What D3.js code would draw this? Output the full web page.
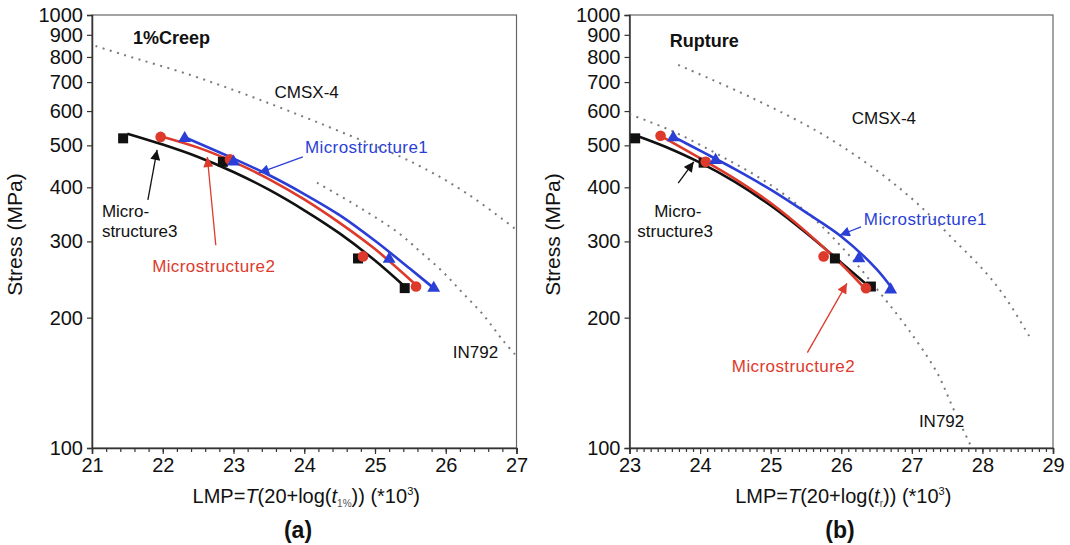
<!DOCTYPE html>
<html>
<head>
<meta charset="utf-8">
<script src="https://cdn.jsdelivr.net/npm/d3@7"></script>
<style>
  body { margin: 0; background: #fff; }
  svg text { font-family: 'Liberation Sans', Arial, sans-serif; }
</style>
</head>
<body>
<div id="chart"></div>
<script>
// ---- data: [LMP (*10^3), stress MPa]
var yTicks = [100, 200, 300, 400, 500, 600, 700, 800, 900, 1000];

// (a) 1% creep
var a_m1_pts = [[22.31, 519], [23.0, 458], [25.2, 273], [25.83, 234]];
var a_m2_pts = [[21.97, 523], [22.95, 464], [24.83, 277], [25.58, 236]];
var a_m3_pts = [[21.44, 519], [22.85, 458], [24.76, 274], [25.42, 234]];
var a_m1_fit = [[22.31, 522], [23.0, 466], [23.5, 427], [24.0, 386], [24.5, 345], [25.0, 301], [25.5, 259], [25.83, 234]];
var a_m2_fit = [[21.97, 525], [22.5, 494], [23.0, 458], [23.5, 418], [24.0, 375], [24.5, 331], [25.0, 288], [25.58, 238]];
var a_m3_fit = [[21.5, 532], [22.0, 502], [22.5, 470], [23.0, 434], [23.5, 395], [24.0, 354], [24.5, 313], [25.0, 271], [25.42, 236]];
var a_cmsx = [[21.05, 848], [21.45, 809], [22.39, 727], [23.11, 661], [23.74, 604], [24.52, 537], [25.55, 455], [26.29, 388], [27.0, 319]];
var a_in792 = [[24.18, 410], [24.75, 362], [25.33, 314], [25.64, 284], [25.96, 255], [26.24, 228], [26.53, 203], [26.81, 177], [27.0, 163]];

// (b) rupture
var b_m1_pts = [[23.62, 521], [24.22, 462], [26.25, 274], [26.70, 232]];
var b_m2_pts = [[23.44, 526], [24.08, 458], [25.75, 277], [26.35, 234]];
var b_m3_pts = [[23.08, 519], [24.05, 456], [25.91, 274], [26.42, 236]];
var b_m1_fit = [[23.62, 524], [24.0, 486], [24.5, 440], [25.0, 395], [25.5, 350], [26.0, 308], [26.5, 259], [26.70, 236]];
var b_m2_fit = [[23.44, 526], [24.0, 467], [24.5, 418], [25.0, 368], [25.5, 316], [26.0, 266], [26.35, 232]];
var b_m3_fit = [[23.12, 525], [23.5, 497], [24.0, 456], [24.5, 411], [25.0, 363], [25.5, 314], [26.0, 268], [26.42, 234]];
var b_cmsx = [[23.69, 767], [24.74, 643], [25.71, 533], [26.49, 439], [27.07, 368], [27.6, 302], [28.04, 255], [28.33, 222], [28.7, 177]];
var b_in792 = [[23.0, 590], [23.6, 540], [24.3, 472], [25.0, 405], [25.6, 340], [26.1, 280], [26.55, 228], [26.95, 188], [27.35, 150], [27.6, 122], [27.85, 100]];

var blue = "#2b3fd6", red = "#dd3a2c", black = "#111";

// Boilerplate
var W = 1070, H = 545;
var plotTop = 15, plotBottom = 448;
var svg = d3.select("#chart").append("svg")
            .attr("width", W).attr("height", H);

var defs = svg.append("defs");
[["blue", blue], ["red", red], ["black", black]].forEach(function (c) {
  defs.append("marker")
      .attr("id", "arr-" + c[0])
      .attr("viewBox", "0 -5 10 10")
      .attr("refX", 10).attr("refY", 0)
      .attr("markerUnits", "userSpaceOnUse")
      .attr("markerWidth", 11).attr("markerHeight", 10)
      .attr("orient", "auto")
      .append("path").attr("d", "M0,-5L10,0L0,5Z").attr("fill", c[1]);
});

var panels = [
  { left: 92, right: 516.5, xdom: [21, 27], minor: 0.2, title: "1%Creep",
    m1: a_m1_pts, m2: a_m2_pts, m3: a_m3_pts, f1: a_m1_fit, f2: a_m2_fit, f3: a_m3_fit,
    cmsx: a_cmsx, in792: a_in792, sub: "1%", tag: "(a)", tagX: 298,
    labels: { title: [21.58, 857], cmsx: [23.58, 643], in792: [26.1, 161],
              l1: [24.01, 480], l2: [21.85, 255], l3a: [21.14, 341], l3b: [21.14, 307] },
    arrows: { a1: [[23.98, 470], [23.36, 432]], a2: [[22.75, 294], [22.63, 470]], a3: [[21.79, 374], [21.92, 488]] } },
  { left: 629.5, right: 1053, xdom: [23, 29], minor: 0.1, title: "Rupture",
    m1: b_m1_pts, m2: b_m2_pts, m3: b_m3_pts, f1: b_m1_fit, f2: b_m2_fit, f3: b_m3_fit,
    cmsx: b_cmsx, in792: b_in792, sub: "r", tag: "(b)", tagX: 840,
    labels: { title: [23.57, 844], cmsx: [26.15, 560], in792: [27.1, 112],
              l1: [26.32, 327], l2: [24.45, 150], l3a: [23.35, 341], l3b: [23.11, 307] },
    arrows: { a1: [[26.28, 324], [25.98, 310]], a2: [[25.52, 166], [26.08, 240]], a3: [[23.69, 409], [23.91, 458]] } }
];

panels.forEach(function (p) {
  var x = d3.scaleLinear().domain(p.xdom).range([p.left, p.right]);
  var y = d3.scaleLog().domain([100, 1000]).range([plotBottom, plotTop]);
  var g = svg.append("g");

  // frame
  g.append("rect")
   .attr("x", p.left).attr("y", plotTop)
   .attr("width", p.right - p.left).attr("height", plotBottom - plotTop)
   .attr("fill", "none").attr("stroke", "#666").attr("stroke-width", 1.2);

  // y axis
  var yAxis = d3.axisLeft(y).tickValues(yTicks).tickFormat(d3.format("d")).tickSize(5).tickPadding(4);
  var ya = g.append("g").attr("transform", "translate(" + p.left + ",0)").call(yAxis);
  ya.select(".domain").attr("stroke", "#333").attr("stroke-width", 1.5);
  ya.selectAll(".tick line").attr("stroke", "#333").attr("stroke-width", 1.2);
  ya.selectAll(".tick text").attr("font-size", 20).attr("fill", "#111")
    .attr("font-family", "'Liberation Sans', Arial, sans-serif");

  // x axis minor + major
  var minors = d3.range(p.xdom[0], p.xdom[1] + 1e-9, p.minor);
  var xm = g.append("g").attr("transform", "translate(0," + plotBottom + ")")
            .call(d3.axisBottom(x).tickValues(minors).tickSize(4).tickFormat(""));
  xm.select(".domain").remove();
  xm.selectAll(".tick line").attr("stroke", "#333").attr("stroke-width", 1.2);

  var xa = g.append("g").attr("transform", "translate(0," + plotBottom + ")")
            .call(d3.axisBottom(x).tickValues(d3.range(p.xdom[0], p.xdom[1] + 1)).tickFormat(d3.format("d")).tickSize(6).tickPadding(4));
  xa.select(".domain").attr("stroke", "#333").attr("stroke-width", 1.5);
  xa.selectAll(".tick line").attr("stroke", "#333").attr("stroke-width", 1.2);
  xa.selectAll(".tick text").attr("font-size", 20).attr("fill", "#111")
    .attr("font-family", "'Liberation Sans', Arial, sans-serif");

  // y title
  g.append("text")
   .attr("transform", "translate(" + (p.left - 70) + "," + ((plotTop + plotBottom) / 2 + 3) + ") rotate(-90)")
   .attr("text-anchor", "middle").attr("font-size", 21).attr("fill", "#111")
   .text("Stress (MPa)");

  // x title
  var xt = g.append("text")
   .attr("x", (p.left + p.right) / 2 + 2).attr("y", 503)
   .attr("text-anchor", "middle").attr("font-size", 20).attr("fill", "#111");
  xt.append("tspan").text("LMP=");
  xt.append("tspan").attr("font-style", "italic").text("T");
  xt.append("tspan").text("(20+log(");
  xt.append("tspan").attr("font-style", "italic").text("t");
  xt.append("tspan").attr("font-size", 10).attr("dy", 4).attr("fill", "#555").text(p.sub);
  xt.append("tspan").attr("dy", -4).text(")) (*10");
  xt.append("tspan").attr("font-size", 11).attr("dy", -8).text("3");
  xt.append("tspan").attr("dy", 8).text(")");

  g.append("text").attr("x", p.tagX).attr("y", 538)
   .attr("text-anchor", "middle").attr("font-size", 23).attr("font-weight", "bold")
   .attr("fill", "#111").text(p.tag);

  var clip = "clip-" + p.tag.replace(/[()]/g, "");
  defs.append("clipPath").attr("id", clip).append("rect")
      .attr("x", p.left).attr("y", plotTop).attr("width", p.right - p.left).attr("height", plotBottom - plotTop);

  var plot = g.append("g").attr("clip-path", "url(#" + clip + ")");

  // reference alloys (dotted)
  var dotted = d3.line().x(function (d) { return x(d[0]); }).y(function (d) { return y(d[1]); })
                 .curve(d3.curveCatmullRom);
  [p.cmsx, p.in792].forEach(function (s) {
    plot.append("path").attr("d", dotted(s))
        .attr("fill", "none").attr("stroke", "#7a7a7a")
        .attr("stroke-width", 2).attr("stroke-dasharray", "2,5.5");
  });

  // fitted lines
  var line = d3.line().x(function (d) { return x(d[0]); }).y(function (d) { return y(d[1]); })
               .curve(d3.curveCatmullRom);
  [[p.f3, black], [p.f2, red], [p.f1, blue]].forEach(function (s) {
    plot.append("path").attr("d", line(s[0]))
        .attr("fill", "none").attr("stroke", s[1]).attr("stroke-width", 2.6);
  });

  // markers
  plot.selectAll(".m3").data(p.m3).enter().append("rect")
      .attr("x", function (d) { return x(d[0]) - 5; })
      .attr("y", function (d) { return y(d[1]) - 5; })
      .attr("width", 10).attr("height", 10).attr("fill", black);
  plot.selectAll(".m2").data(p.m2).enter().append("circle")
      .attr("cx", function (d) { return x(d[0]); })
      .attr("cy", function (d) { return y(d[1]); })
      .attr("r", 5.3).attr("fill", red);
  plot.selectAll(".m1").data(p.m1).enter().append("path")
      .attr("d", d3.symbol().type(d3.symbolTriangle).size(72))
      .attr("transform", function (d) { return "translate(" + x(d[0]) + "," + y(d[1]) + ")"; })
      .attr("fill", blue);

  // annotations
  var L = p.labels;
  g.append("text").attr("x", x(L.title[0])).attr("y", y(L.title[1]))
   .attr("font-size", 18).attr("font-weight", "bold").attr("fill", "#111").text(p.title);
  g.append("text").attr("x", x(L.cmsx[0])).attr("y", y(L.cmsx[1]))
   .attr("font-size", 17).attr("fill", "#111").text("CMSX-4");
  g.append("text").attr("x", x(L.in792[0])).attr("y", y(L.in792[1]))
   .attr("font-size", 17).attr("fill", "#111").text("IN792");
  g.append("text").attr("x", x(L.l1[0])).attr("y", y(L.l1[1]))
   .attr("font-size", 17).attr("letter-spacing", 0.4).attr("fill", blue).text("Microstructure1");
  g.append("text").attr("x", x(L.l2[0])).attr("y", y(L.l2[1]))
   .attr("font-size", 17).attr("letter-spacing", 0.4).attr("fill", red).text("Microstructure2");
  g.append("text").attr("x", x(L.l3a[0])).attr("y", y(L.l3a[1]))
   .attr("font-size", 17).attr("fill", "#111").text("Micro-");
  g.append("text").attr("x", x(L.l3b[0])).attr("y", y(L.l3b[1]))
   .attr("font-size", 17).attr("fill", "#111").text("structure3");

  [["a1", blue, "blue"], ["a2", red, "red"], ["a3", black, "black"]].forEach(function (a) {
    var seg = p.arrows[a[0]];
    g.append("line")
     .attr("x1", x(seg[0][0])).attr("y1", y(seg[0][1]))
     .attr("x2", x(seg[1][0])).attr("y2", y(seg[1][1]))
     .attr("stroke", a[1]).attr("stroke-width", 1.3)
     .attr("marker-end", "url(#arr-" + a[2] + ")");
  });
});
</script>
</body>
</html>
